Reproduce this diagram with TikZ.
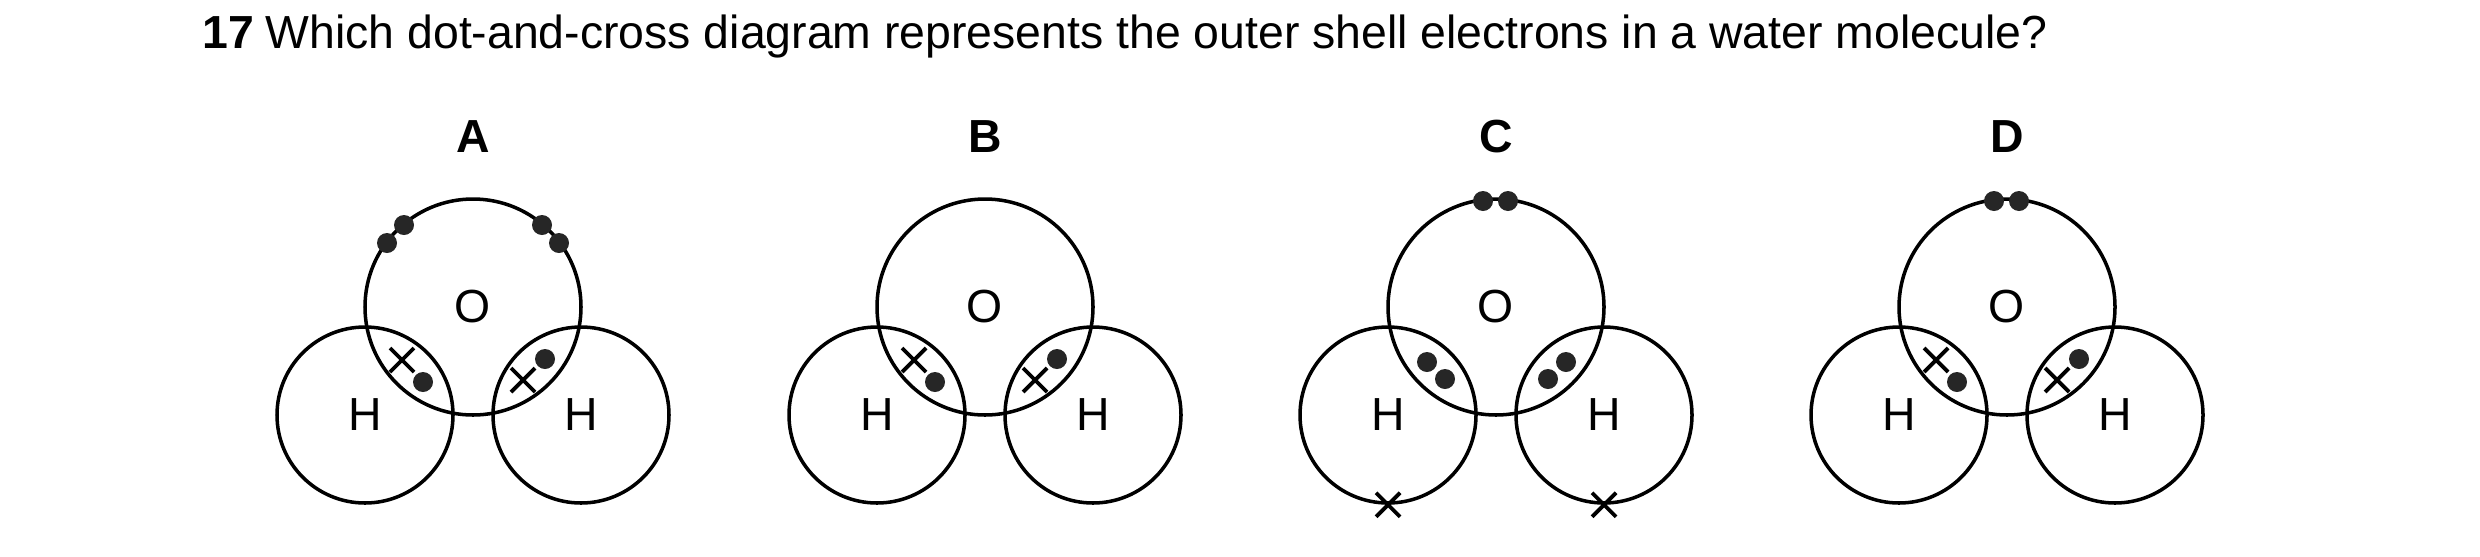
\documentclass[tikz,border=0pt]{standalone}
\usepackage{fontspec}
\setmainfont{Liberation Sans}
\usetikzlibrary{calc}

\tikzset{
  shell/.style = {draw, circle, line width = 1pt, inner sep = 0pt},
  elec/.style = {fill = black!85, circle, inner sep = 0pt, minimum size = 0.2cm},
  xelec/.style = {line width = 1.1pt},
  lbl/.style = {font = \fontsize{13.2}{15}\selectfont, inner sep = 0pt}
}
% one cross at a point
\newcommand{\xe}[1]{\draw[xelec, shift = {#1}] (-0.12,-0.12) -- (0.12,0.12)
  (-0.12,0.12) -- (0.12,-0.12);}
% the three shells of one water molecule
\newcommand{\water}[3]{%
  \node[shell, minimum size = 2.16cm] (o#1) at (#2, 2.49) {};
  \node[shell, minimum size = 1.76cm] (hl#1) at ($(o#1)+(-1.08,-1.08)$) {};
  \node[shell, minimum size = 1.76cm] (hr#1) at ($(o#1)+(1.08,-1.08)$) {};
  \node[lbl] at (o#1) {O};
  \node[lbl] at (hl#1) {H};
  \node[lbl] at (hr#1) {H};
  \node[lbl, anchor = base] (t#1) at (#2, 4.04) {\bfseries #3};
}

\begin{document}
\begin{tikzpicture}
\useasboundingbox (0, 0) rectangle (24.8, 5.56);
\node[lbl, anchor = base west] (num) at (2.02, 5.08) {\bfseries 17};
\node[lbl, anchor = base west] (qtext) at (2.65, 5.08)
  {Which dot-and-cross diagram represents the outer shell electrons in a water molecule?};

\water{A}{4.73}{A}
\water{B}{9.85}{B}
\water{C}{14.96}{C}
\water{D}{20.07}{D}

% A
\foreach \x/\y in {-0.69/0.82, -0.86/0.64, 0.69/0.82, 0.86/0.64, -0.50/-0.75, 0.72/-0.52}
  \node[elec] at ($(oA)+(\x,\y)$) {};
\xe{($(oA)+(-0.71,-0.53)$)}
\xe{($(oA)+(0.50,-0.73)$)}

% B
\foreach \x/\y in {-0.50/-0.75, 0.72/-0.52}
  \node[elec] at ($(oB)+(\x,\y)$) {};
\xe{($(oB)+(-0.71,-0.53)$)}
\xe{($(oB)+(0.50,-0.73)$)}

% C
\foreach \x/\y in {-0.13/1.06, 0.12/1.06, -0.69/-0.55, -0.51/-0.72, 0.70/-0.55, 0.52/-0.72}
  \node[elec] at ($(oC)+(\x,\y)$) {};
\xe{(hlC.south)}
\xe{(hrC.south)}

% D
\foreach \x/\y in {-0.13/1.06, 0.12/1.06, -0.50/-0.75, 0.72/-0.52}
  \node[elec] at ($(oD)+(\x,\y)$) {};
\xe{($(oD)+(-0.71,-0.53)$)}
\xe{($(oD)+(0.50,-0.73)$)}
\end{tikzpicture}
\end{document}
